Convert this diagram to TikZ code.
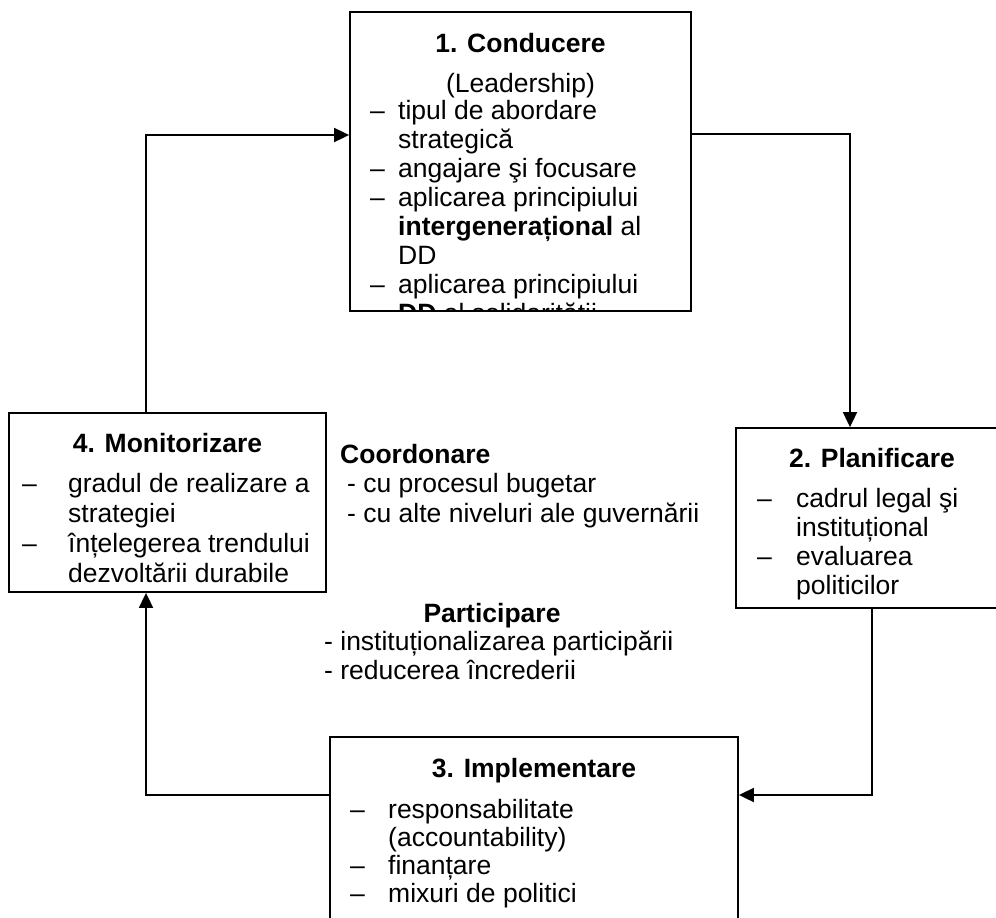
\documentclass[tikz,border=0pt]{standalone}
\usepackage{fontspec}
\setmainfont{Liberation Sans}
\usepackage{tikz}
\usetikzlibrary{arrows.meta}
\tikzstyle{loopdiag}=[
  x=1pt,y=-1pt,font=\fontsize{26.5}{29}\selectfont
]
\tikzstyle{stage}=[
  draw,line width=1.8pt,inner sep=0pt
]
\tikzstyle{flow}=[
  line width=1.8pt,-{Triangle[length=15pt,width=14pt]}
]
% multi-line texts are placed by the baseline of their last line
\tikzstyle{body}=[
  inner sep=0pt,anchor=base west,align=left
]
\tikzstyle{head}=[
  inner sep=0pt,anchor=base,font=\fontsize{26.5}{29}\selectfont\bfseries
]
\newcommand{\itemdash}[1]{\makebox[#1][l]{–}}

\begin{document}
\begin{tikzpicture}[loopdiag]
  \useasboundingbox (0,0) rectangle (996,918);
  % the four stages
  \node (cond) [stage,minimum width=341pt,minimum height=299pt] at (520.5,161.5) {};
  \node (plan) [stage,minimum width=272pt,minimum height=180pt] at (872,518) {};
  \node (impl) [stage,minimum width=408pt,minimum height=193pt] at (534,833.5) {};
  \node (mon) [stage,minimum width=317pt,minimum height=179pt] at (167.5,502.5) {};
  % texts of the stages
  \node (condhead) [head] at (520.5,52) {1. Conducere};
  \node (condsub) [inner sep=0pt,anchor=base] at (520.5,92) {(Leadership)};
  \begin{scope}
    \clip (cond.north west) rectangle (cond.south east);
    \node (condtxt) [body] at (370,322) {\itemdash{28pt}tipul de abordare\\
      \hspace*{28pt}strategică\\
      \itemdash{28pt}angajare şi focusare\\
      \itemdash{28pt}aplicarea principiului\\
      \hspace*{28pt}\textbf{intergenerațional} al\\
      \hspace*{28pt}DD\\
      \itemdash{28pt}aplicarea principiului\\
      \hspace*{28pt}\textbf{DD} al solidarității};
  \end{scope}
  \node (planhead) [head] at (872,467) {2. Planificare};
  \node (plantxt) [body] at (757,594) {\itemdash{39pt}cadrul legal şi\\
    \hspace*{39pt}instituțional\\
    \itemdash{39pt}evaluarea\\
    \hspace*{39pt}politicilor};
  \node (implhead) [head] at (534,777) {3. Implementare};
  \node (impltxt) [body,font=\fontsize{26.5}{28}\selectfont] at (350,902) {\itemdash{38pt}responsabilitate\\
    \hspace*{38pt}(accountability)\\
    \itemdash{38pt}finanțare\\
    \itemdash{38pt}mixuri de politici};
  \node (monhead) [head] at (167.5,452) {4. Monitorizare};
  \node (montxt) [body,font=\fontsize{26.5}{29.7}\selectfont] at (22,582) {\itemdash{46pt}gradul de realizare a\\
    \hspace*{46pt}strategiei\\
    \itemdash{46pt}înțelegerea trendului\\
    \hspace*{46pt}dezvoltării durabile};
  % middle texts
  \node (coord) [inner sep=0pt,anchor=base west,font=\fontsize{26.5}{29}\selectfont\bfseries] at (340,463) {Coordonare};
  \node (coordtxt) [body,font=\fontsize{26.5}{30}\selectfont] at (347,522) {- cu procesul bugetar\\- cu alte niveluri ale guvernării};
  \node (part) [head] at (492,622) {Participare};
  \node (parttxt) [body] at (324,679) {- instituționalizarea participării\\- reducerea încrederii};
  % connectors
  \coordinate (c1) at (850,134);
  \coordinate (c2) at (872,795);
  \coordinate (c3) at (146,795);
  \coordinate (c4) at (146,135);
  \draw [flow] (cond.east |- c1) -- (c1) -- (c1 |- plan.north);
  \draw [flow] (plan.south) -- (c2) -- (c2 -| impl.east);
  \draw [flow] (impl.west |- c3) -- (c3) -- (c3 |- mon.south);
  \draw [flow] (mon.north -| c4) -- (c4) -- (c4 -| cond.west);
\end{tikzpicture}
\end{document}
